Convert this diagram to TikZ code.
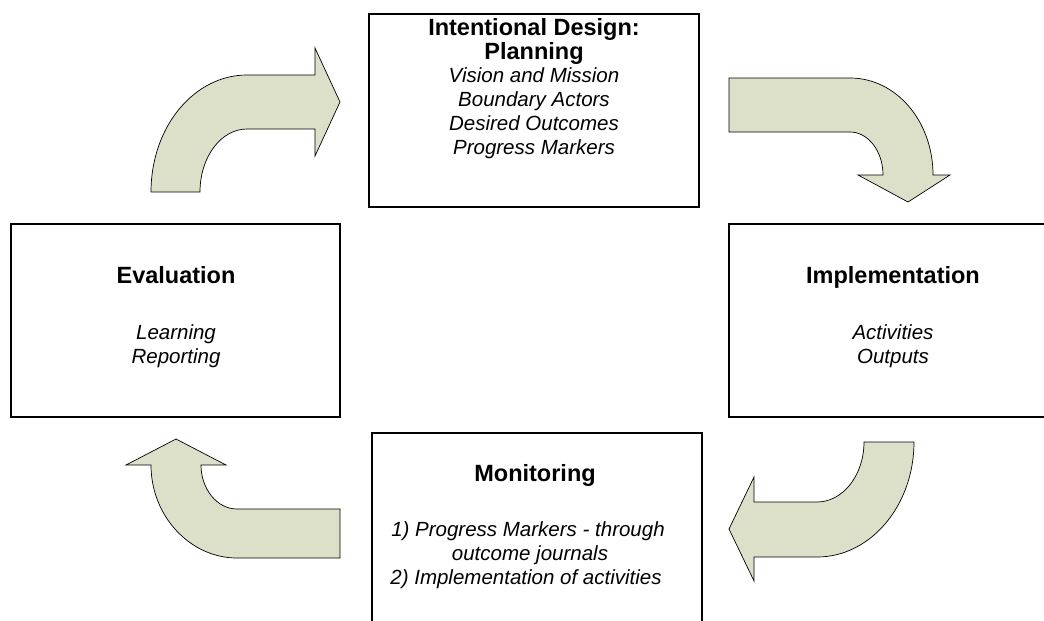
\documentclass[tikz,border=0pt]{standalone}
\usepackage{fontspec}
\setmainfont{Liberation Sans}
\definecolor{arrowfill}{RGB}{220,224,201}
\begin{document}
\begin{tikzpicture}[x=1pt,y=-1pt,
  box/.style={draw=black, line width=1.2pt, fill=white, inner sep=0pt, minimum width=330pt, minimum height=193pt},
  ttl/.style={font=\fontsize{23.5}{28}\selectfont\bfseries, anchor=base, inner sep=0pt},
  itl/.style={font=\fontsize{20.5}{24}\selectfont\itshape, anchor=base, inner sep=0pt},
  bentarrow/.style={draw=black, line width=0.7pt, fill=arrowfill, line join=miter}]
\useasboundingbox (0,0) rectangle (1044,621);
\clip (0,0) rectangle (1044,621);

% top-left arrow (Evaluation -> Planning)
\path[bentarrow] (151,192) .. controls (151,127) and (194,75) .. (247,75)
  -- (315,75) -- (315,48) -- (340,102) -- (315,156) -- (315,129) -- (247,129)
  .. controls (221,129) and (200,157) .. (200,192) -- cycle;
% top-right arrow (Planning -> Implementation)
\path[bentarrow] (729,78) -- (850,78) .. controls (896,78) and (933,121) .. (933,175)
  -- (950,175) -- (908,202) -- (858,175) -- (883,175)
  .. controls (883,151) and (868,132) .. (850,132) -- (729,132) -- cycle;
% bottom-right arrow (Implementation -> Monitoring)
\path[bentarrow] (864,442) -- (914,442) .. controls (914,505) and (871,557) .. (817,557)
  -- (754,557) -- (754,581) -- (729,529) -- (754,477) -- (754,502) -- (817,502)
  .. controls (843,502) and (864,475) .. (864,442) -- cycle;
% bottom-left arrow (Monitoring -> Evaluation)
\path[bentarrow] (176,439) -- (226,465) -- (201,465)
  .. controls (201,489) and (217,509) .. (237,509) -- (340,509) -- (340,558) -- (237,558)
  .. controls (190,558) and (151,516) .. (151,465) -- (126,465) -- cycle;

% boxes
\node[box] (plan) at (534,110.5) {};
\node[box, minimum width=329pt] (eval) at (175.5,320.5) {};
\node[box, minimum width=329pt] (impl) at (893.5,320.5) {};
\node[box, minimum height=207pt] (mon) at (537,536.5) {};

% planning text
\node[ttl] (p1) at (534,35) {Intentional Design:};
\node[ttl] (p2) at (534,59) {Planning};
\node[itl] (p3) at (534,82) {Vision and Mission};
\node[itl] (p4) at (534,106) {Boundary Actors};
\node[itl] (p5) at (534,130) {Desired Outcomes};
\node[itl] (p6) at (534,154) {Progress Markers};
% evaluation text
\node[ttl] (e1) at (176,283) {Evaluation};
\node[itl] (e2) at (176,339) {Learning};
\node[itl] (e3) at (176,363) {Reporting};
% implementation text
\node[ttl] (i1) at (893,283) {Implementation};
\node[itl] (i2) at (893,339) {Activities};
\node[itl] (i3) at (893,363) {Outputs};
% monitoring text
\node[ttl] (m1) at (535,481) {Monitoring};
\node[itl] (m2) at (528,536) {1) Progress Markers - through};
\node[itl] (m3) at (530,560) {outcome journals};
\node[itl] (m4) at (526,584) {2) Implementation of activities};
\end{tikzpicture}
\end{document}
